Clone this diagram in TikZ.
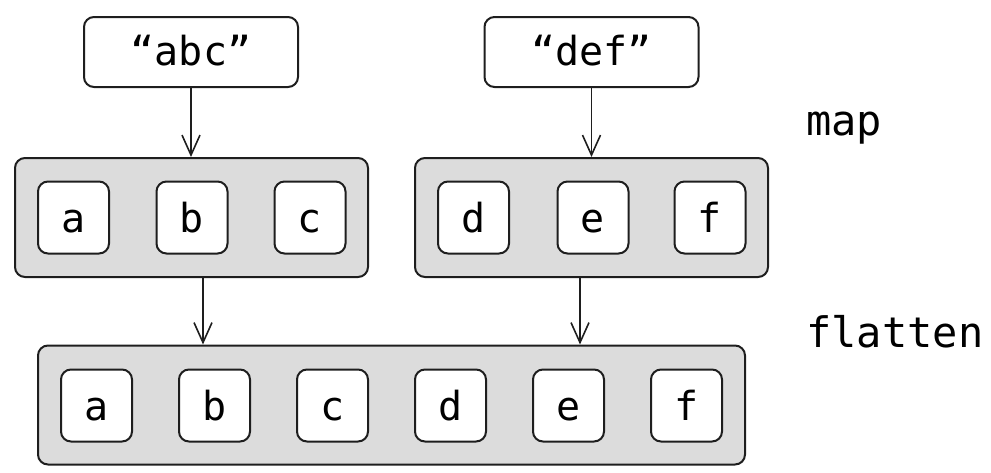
\documentclass[tikz,border=0pt]{standalone}
\usepackage{fontspec}
\setmainfont{DejaVu Sans Mono}
\usetikzlibrary{arrows.meta}
\definecolor{groupfill}{HTML}{DCDCDC}
\definecolor{edge}{HTML}{1E1E1E}
\tikzset{
  txt/.style={font=\fontsize{20}{24}\selectfont},
  strbox/.style={txt, draw=edge, line width=1pt, rounded corners=5pt, fill=white,
    minimum width=107pt, minimum height=35pt, inner sep=0pt,
    text height=13pt, text depth=0pt},
  grp/.style={draw=edge, line width=1pt, rounded corners=5pt, fill=groupfill,
    minimum height=59.5pt, inner sep=0pt},
  cell/.style={txt, draw=edge, line width=1pt, rounded corners=5pt, fill=white,
    minimum width=35.5pt, minimum height=36pt, inner sep=0pt,
    text height=14.5pt, text depth=0pt},
  arr/.style={draw=edge, line width=0.8pt, -{Straight Barb[length=10pt,width=9pt,line width=0.8pt]}},
  lbl/.style={font=\fontsize{21}{25}\selectfont, anchor=base west, inner sep=0pt}
}
\begin{document}
\begin{tikzpicture}[x=0.5pt,y=-0.5pt]
\useasboundingbox (0,0) rectangle (991,472);
% top strings
\node[strbox] (abc) at (191,52) {“abc”};
\node[strbox] (def) at (591.5,52) {“def”};
% mapped groups
\node[grp, minimum width=176.5pt] (g1) at (191.5,217.5) {};
\node[grp, minimum width=176.5pt] (g2) at (591.5,217.5) {};
\node[cell] (ta) at (73.5,217.5) {a};
\node[cell] (tb) at (192,217.5) {b};
\node[cell] (tc) at (310,217.5) {c};
\node[cell] (td) at (473.5,217.5) {d};
\node[cell] (te) at (593,217.5) {e};
\node[cell] (tf) at (710,217.5) {f};
% flattened group
\node[grp, minimum width=353.5pt] (bot) at (391.5,405) {};
\node[cell] (ba) at (96.5,405.5) {a};
\node[cell] (bb) at (214.5,405.5) {b};
\node[cell] (bc) at (332.5,405.5) {c};
\node[cell] (bd) at (450.5,405.5) {d};
\node[cell] (be) at (568.5,405.5) {e};
\node[cell] (bf) at (686.5,405.5) {f};
% arrows
\draw[arr] (abc.south) -- (abc.south |- g1.north);
\draw[arr] (def.south) -- (def.south |- g2.north);
\draw[arr] ([xshift=5.75pt]g1.south) -- ([xshift=5.75pt]g1.south |- bot.north);
\draw[arr] ([xshift=-5.75pt]g2.south) -- ([xshift=-5.75pt]g2.south |- bot.north);
% labels
\node[lbl] (lmap) at (806,135) {map};
\node[lbl] (lflat) at (806,347) {flatten};
\end{tikzpicture}
\end{document}
